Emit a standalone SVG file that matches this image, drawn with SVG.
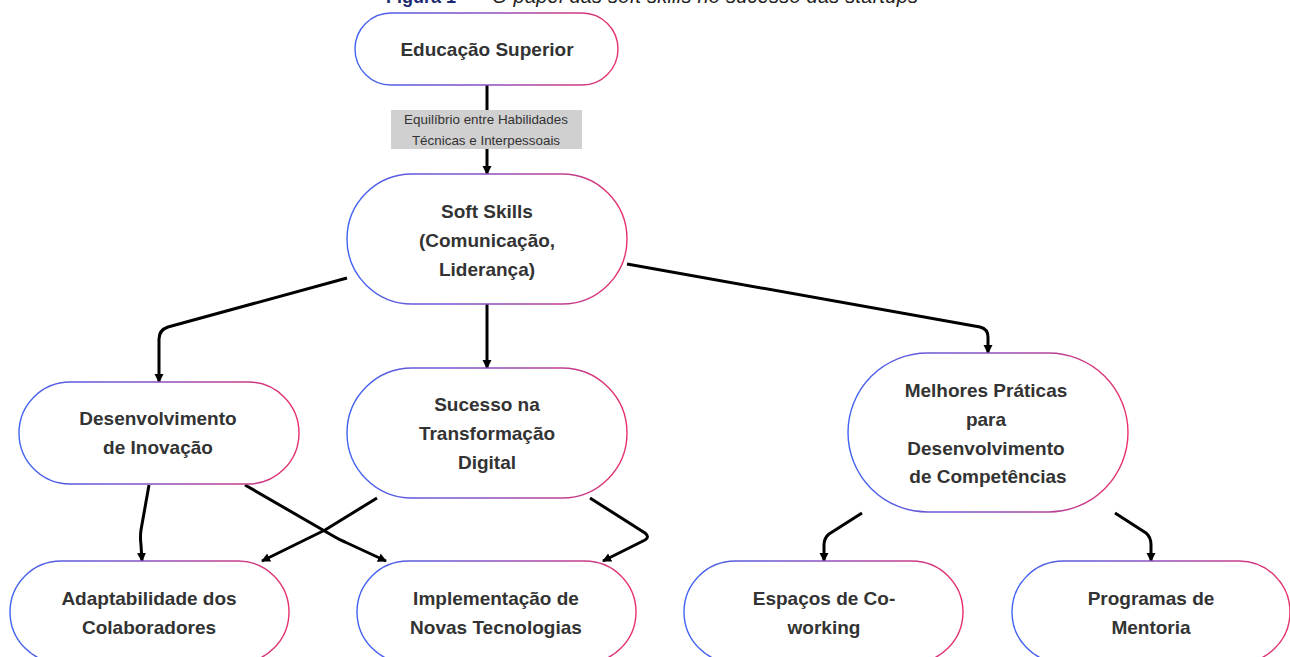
<svg xmlns="http://www.w3.org/2000/svg" width="1290" height="657" viewBox="0 0 1290 657">
<style>
.node{fill:#fff;stroke:url(#g);stroke-width:1.4}
.t{font-family:"Liberation Sans",Arial,sans-serif;font-weight:bold;font-size:19px;fill:#333;text-anchor:middle}
.lbl{font-family:"Liberation Sans",Arial,sans-serif;font-size:13.4px;fill:#333;text-anchor:middle}
.c{fill:none;stroke:#000;stroke-width:3;stroke-linejoin:round}
.ca{fill:none;stroke:#000;stroke-width:3;stroke-linejoin:round;marker-end:url(#arr)}
</style>
<defs>
<linearGradient id="g" x1="0" y1="0" x2="1" y2="0">
<stop offset="0" stop-color="#3f63f2"/>
<stop offset="0.5" stop-color="#8c4fc0"/>
<stop offset="1" stop-color="#e8306a"/>
</linearGradient>
<marker id="arr" markerUnits="userSpaceOnUse" markerWidth="10" markerHeight="10" refX="8" refY="4.5" orient="auto">
<path d="M0,0 L9,4.5 L0,9 z" fill="#000"/>
</marker>
</defs>
<rect width="1290" height="657" fill="#fff"/>
<text x="386" y="3" font-family="Liberation Sans,Arial,sans-serif" font-size="18px" font-weight="bold" fill="#1c2a6e">Figura 1</text>
<text x="467" y="3" font-family="Liberation Sans,Arial,sans-serif" font-size="18px" fill="#222">–</text>
<text x="492" y="3" font-family="Liberation Sans,Arial,sans-serif" font-size="20px" font-style="italic" fill="#222" textLength="426" lengthAdjust="spacing">O papel das soft skills no sucesso das startups</text>

<g id="connectors">
<path class="c" d="M487,85 L487,110"/>
<rect x="391" y="110" width="191" height="39" fill="#d0d0d0"/>
<text class="lbl" x="486" y="124">Equilíbrio entre Habilidades</text>
<text class="lbl" x="486" y="145">Técnicas e Interpessoais</text>
<path class="ca" d="M487,149 L487,174"/>
<path class="ca" d="M347,278 L168,327 Q159,330 159,339 L159,382"/>
<path class="ca" d="M487,304 L487,368"/>
<path class="ca" d="M627,264 L980,327 Q988,329 988,337 L988,353"/>
<path class="ca" d="M149,485 L141,530 Q140,537 141,545 L142,561"/>
<path class="ca" d="M245,485 L335,537 Q340,540 345,542 L386,561"/>
<path class="ca" d="M377,498 L325,530 L262,561"/>
<path class="ca" d="M590,498 L645,533 Q650,537 645,540 L603,561"/>
<path class="ca" d="M862,513 L829,534 Q824,538 824,545 L824,561"/>
<path class="ca" d="M1115,513 L1146,533 Q1151,537 1151,545 L1151,561"/>
</g>

<g id="educacao">
<rect class="node" x="355" y="13" width="263" height="72" rx="36"/>
<text class="t" x="487" y="56">Educação Superior</text>
</g>
<g id="softskills">
<rect class="node" x="347" y="174" width="280" height="130" rx="65"/>
<text class="t" x="487" y="218">Soft Skills</text>
<text class="t" x="487" y="247">(Comunicação,</text>
<text class="t" x="487" y="276">Liderança)</text>
</g>
<g id="desenvolvimento">
<rect class="node" x="19" y="382" width="280" height="102" rx="51"/>
<text class="t" x="158" y="425">Desenvolvimento</text>
<text class="t" x="158" y="454">de Inovação</text>
</g>
<g id="sucesso">
<rect class="node" x="347" y="368" width="280" height="130" rx="65"/>
<text class="t" x="487" y="411">Sucesso na</text>
<text class="t" x="487" y="440">Transformação</text>
<text class="t" x="487" y="469">Digital</text>
</g>
<g id="melhores">
<rect class="node" x="848" y="353" width="280" height="159" rx="79.5"/>
<text class="t" x="986" y="397">Melhores Práticas</text>
<text class="t" x="986" y="426">para</text>
<text class="t" x="986" y="455">Desenvolvimento</text>
<text class="t" x="988" y="483">de Competências</text>
</g>
<g id="adaptabilidade">
<rect class="node" x="10" y="561" width="279" height="102" rx="51"/>
<text class="t" x="149" y="605">Adaptabilidade dos</text>
<text class="t" x="149" y="634">Colaboradores</text>
</g>
<g id="implementacao">
<rect class="node" x="357" y="561" width="279" height="102" rx="51"/>
<text class="t" x="496" y="605">Implementação de</text>
<text class="t" x="496" y="634">Novas Tecnologias</text>
</g>
<g id="espacos">
<rect class="node" x="684" y="561" width="279" height="102" rx="51"/>
<text class="t" x="824" y="605">Espaços de Co-</text>
<text class="t" x="824" y="634">working</text>
</g>
<g id="programas">
<rect class="node" x="1012" y="561" width="278" height="102" rx="51"/>
<text class="t" x="1151" y="605">Programas de</text>
<text class="t" x="1151" y="634">Mentoria</text>
</g>
</svg>
